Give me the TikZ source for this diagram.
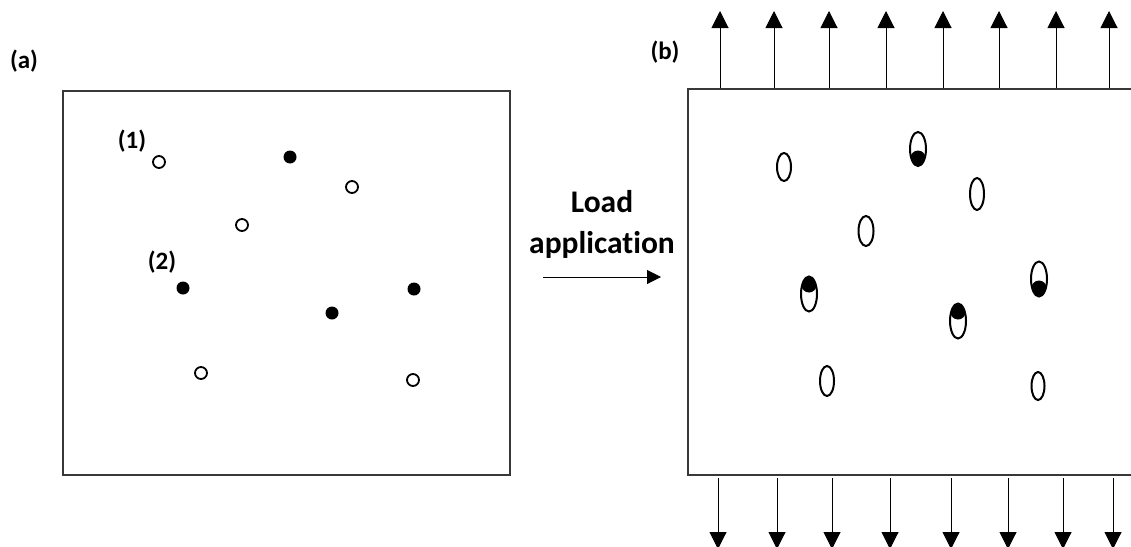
\documentclass[tikz,border=0pt]{standalone}
\usepackage{fontspec}
\setmainfont{Carlito}[Ligatures={NoCommon,NoRequired,NoContextual}]
\usetikzlibrary{arrows.meta,shapes.geometric}
\begin{document}
\begin{tikzpicture}[x=1pt,y=-1pt,
  boxframe/.style={draw=black!78,line width=2pt,inner sep=0pt,anchor=north west},
  lbl/.style={font=\fontsize{25}{28}\selectfont\bfseries,inner sep=0pt},
  biglbl/.style={font=\fontsize{31.5}{34}\selectfont\bfseries,inner sep=0pt},
  opendot/.style={circle,draw=black,line width=1.8pt,fill=white,minimum size=12pt,inner sep=0pt},
  fulldot/.style={circle,fill=black,minimum size=13pt,inner sep=0pt},
  void/.style={ellipse,draw=black,line width=2pt,inner sep=0pt},
  dotbot/.style={path picture={\fill ([yshift=-9pt]path picture bounding box.center) circle (7.5pt);}},
  dottop/.style={path picture={\fill ([yshift=9pt]path picture bounding box.center) circle (7.5pt);}},
  load/.style={-{Triangle[width=17pt,length=17pt]},line width=1pt},
  push/.style={-{Triangle[width=14pt,length=14pt]},line width=1pt}
]
\useasboundingbox (0,0) rectangle (1131,546);
\clip (0,0) rectangle (1131,546);

% ---------- (a)
\node[lbl] (la) at (24,61) {(a)};
\node[boxframe,minimum width=447pt,minimum height=384pt] (boxa) at (62,90) {};
\node[lbl] (l1) at (132,141) {(1)};
\node[lbl] (l2) at (162,262) {(2)};
\node[opendot] (a1) at (159,162) {};
\node[fulldot] (a2) at (290,157) {};
\node[opendot] (a3) at (352,187) {};
\node[opendot] (a4) at (242,225) {};
\node[fulldot] (a5) at (183,288) {};
\node[fulldot] (a6) at (332,313) {};
\node[fulldot] (a7) at (414,289) {};
\node[opendot] (a8) at (201,373) {};
\node[opendot] (a9) at (413,380) {};

% ---------- middle
\node[biglbl] (t1) at (602,202) {Load};
\node[biglbl] (t2) at (602,245) {application};
\coordinate (ms) at (543,277);
\coordinate (me) at (661,277);
\draw[push] (ms) -- (me);

% ---------- (b)
\node[lbl] (lb) at (665,52) {(b)};
\node[boxframe,minimum width=470pt,minimum height=386pt] (boxb) at (687,88) {};

\node[void,minimum width=14pt,minimum height=28pt] (b1) at (784,167) {};
\node[void,dotbot,minimum width=16pt,minimum height=34pt] (b2) at (918,149) {};
\node[void,minimum width=14pt,minimum height=32pt] (b3) at (977,194) {};
\node[void,minimum width=15pt,minimum height=30pt] (b4) at (866,231) {};
\node[void,dottop,minimum width=16pt,minimum height=35pt] (b5) at (809,294) {};
\node[void,dottop,minimum width=16pt,minimum height=35pt] (b6) at (958,321) {};
\node[void,dotbot,minimum width=16pt,minimum height=35pt] (b7) at (1039,279) {};
\node[void,minimum width=14pt,minimum height=30pt] (b8) at (827,381) {};
\node[void,minimum width=13pt,minimum height=28pt] (b9) at (1038,386) {};

% up arrows
\foreach \i/\x in {1/720,2/774,3/829,4/886,5/943,6/999,7/1056,8/1109}{
  \coordinate (us\i) at (\x,88);
  \coordinate (ue\i) at (\x,11);
  \draw[load] (us\i) -- (ue\i);
}
% down arrows
\foreach \i/\x in {1/718,2/777,3/832,4/890,5/951,6/1008,7/1063,8/1113}{
  \coordinate (ds\i) at (\x,478);
  \coordinate (de\i) at (\x,549);
  \draw[load] (ds\i) -- (de\i);
}
\end{tikzpicture}
\end{document}
